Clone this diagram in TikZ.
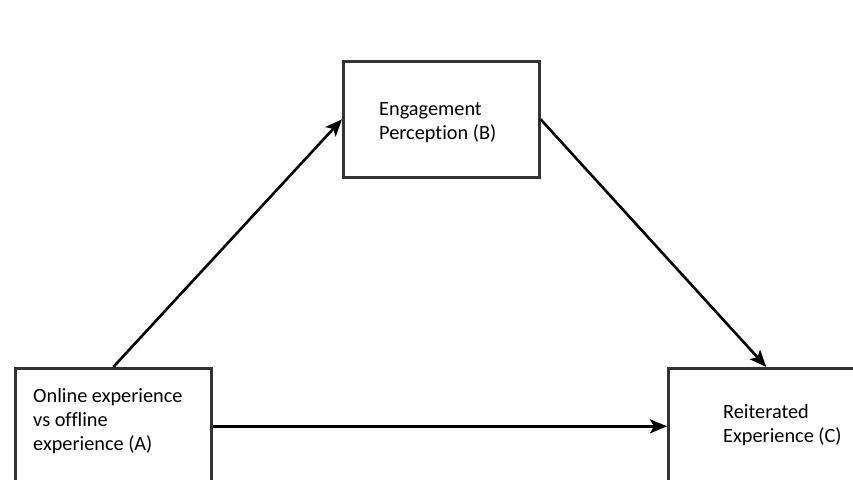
\documentclass[tikz,border=0pt]{standalone}
\usepackage{fontspec}
\setmainfont{Carlito}[Ligatures=NoCommon]
\usetikzlibrary{arrows.meta}
\tikzset{
	varbox/.style={draw=black!80, line width=2.6pt, minimum width=196pt, minimum height=116pt, anchor=north west, inner sep=0pt},
	vartext/.style={anchor=base west, align=left, inner sep=0pt, font=\fontsize{20.3}{24}\selectfont},
	path/.style={line width=2.6pt, -{Stealth[length=17pt,width=14pt,inset=4pt]}}
}
\begin{document}
\begin{tikzpicture}[x=1pt,y=-1pt]
\useasboundingbox (0,0) rectangle (853,479);
\clip (0,0) rectangle (853,479);
\fill[white] (0,0) rectangle (853,479);
% the three variables
				\node[varbox] (A) at (14,367) {};
				\node[varbox] (B) at (342,60) {};
				\node[varbox] (C) at (667,367) {};
% texts, placed by the baseline of their last line
				\node[vartext] (Atext) at (33,450) {Online experience\\vs offline\\experience (A)};
				\node[vartext] (Btext) at (379,139) {Engagement\\Perception (B)};
				\node[vartext] (Ctext) at (723,442) {Reiterated\\Experience (C)};
% paths between them
				\draw[path] (A.north) -- (B.west);
				\draw[path] (B.east) -- (C.north);
				\draw[path] (A.east) -- (C.west);
\end{tikzpicture}
\end{document}
